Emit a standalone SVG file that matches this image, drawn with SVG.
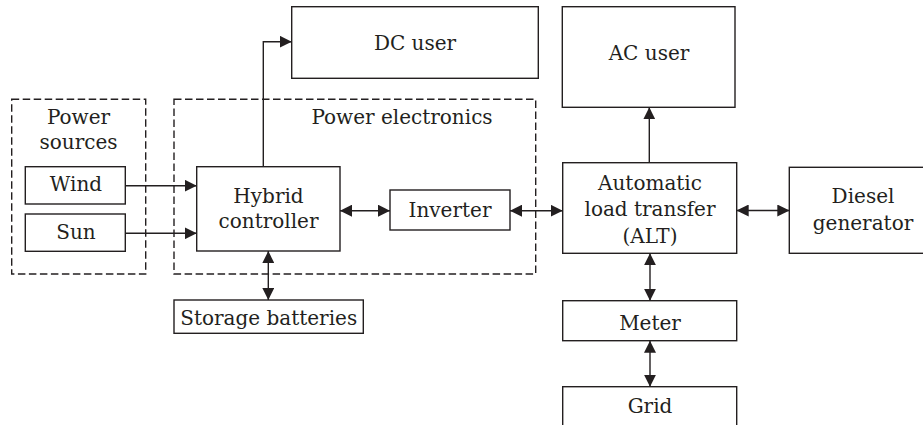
<svg xmlns="http://www.w3.org/2000/svg" width="923" height="425" viewBox="0 0 923 425">
<defs>
<style>
.box{fill:#fff;stroke:#231f20;stroke-width:1.4}
.dash{fill:none;stroke:#231f20;stroke-width:1.4;stroke-dasharray:7.5 3.5}
.t{font-family:"DejaVu Serif","Liberation Serif",serif;font-size:20px;fill:#231f20;text-anchor:middle}
.c{fill:none;stroke:#231f20;stroke-width:1.4}
</style>
<marker id="ah" markerUnits="userSpaceOnUse" markerWidth="12" markerHeight="12" viewBox="0 0 11 11" refX="11" refY="5.5" orient="auto-start-reverse">
<path d="M0,0 L11,5.5 L0,11 z" fill="#231f20"/>
</marker>
</defs>
<rect width="923" height="425" fill="#fff"/>
<g id="power-sources-group">
<rect class="dash" x="11.7" y="99.3" width="134" height="174.7"/>
<text class="t" x="78.5" y="124">Power</text>
<text class="t" x="78.5" y="149">sources</text>
</g>
<g id="power-electronics-group">
<rect class="dash" x="174" y="99.3" width="361.7" height="174.7"/>
<text class="t" x="402" y="124.3">Power electronics</text>
</g>
<g id="wind"><rect class="box" x="25.3" y="166.7" width="100" height="37.3"/><text class="t" x="76" y="191">Wind</text></g>
<g id="sun"><rect class="box" x="25.3" y="214" width="100" height="37.3"/><text class="t" x="76" y="239">Sun</text></g>
<g id="hybrid"><rect class="box" x="196.7" y="166.7" width="143.3" height="84.3"/><text class="t" x="268.5" y="203">Hybrid</text><text class="t" x="268.5" y="228">controller</text></g>
<g id="inverter"><rect class="box" x="390" y="190" width="120" height="40"/><text class="t" x="450" y="217">Inverter</text></g>
<g id="dc-user"><rect class="box" x="291.7" y="6.7" width="246.6" height="71.6"/><text class="t" x="415" y="50">DC user</text></g>
<g id="storage"><rect class="box" x="174" y="300" width="189.3" height="33.3"/><text class="t" x="268.7" y="325">Storage batteries</text></g>
<g id="ac-user"><rect class="box" x="562.3" y="6.7" width="172.7" height="100.6"/><text class="t" x="649" y="60">AC user</text></g>
<g id="alt"><rect class="box" x="562.7" y="162.7" width="174" height="90.6"/><text class="t" x="650" y="190">Automatic</text><text class="t" x="650" y="216">load transfer</text><text class="t" x="650" y="243">(ALT)</text></g>
<g id="diesel"><rect class="box" x="789.3" y="167.3" width="145" height="86"/><text class="t" x="863" y="203.3">Diesel</text><text class="t" x="863" y="230">generator</text></g>
<g id="meter"><rect class="box" x="562.7" y="300.7" width="174" height="40"/><text class="t" x="650" y="330">Meter</text></g>
<g id="grid"><rect class="box" x="562.7" y="386.7" width="174" height="50"/><text class="t" x="650" y="413">Grid</text></g>
<g id="connectors">
<path class="c" d="M125.3,185.7 H196.7" marker-end="url(#ah)"/>
<path class="c" d="M125.3,233.3 H196.7" marker-end="url(#ah)"/>
<path class="c" d="M263.3,166.7 V41.7 H291.7" marker-end="url(#ah)"/>
<path class="c" d="M340,210.7 H390" marker-start="url(#ah)" marker-end="url(#ah)"/>
<path class="c" d="M510,210.7 H562.7" marker-start="url(#ah)" marker-end="url(#ah)"/>
<path class="c" d="M649.3,162.7 V107.3" marker-end="url(#ah)"/>
<path class="c" d="M736.7,210.5 H789.3" marker-start="url(#ah)" marker-end="url(#ah)"/>
<path class="c" d="M268.3,251 V300" marker-start="url(#ah)" marker-end="url(#ah)"/>
<path class="c" d="M650,253.3 V300.7" marker-start="url(#ah)" marker-end="url(#ah)"/>
<path class="c" d="M650,340.7 V386.7" marker-start="url(#ah)" marker-end="url(#ah)"/>
</g>
</svg>
